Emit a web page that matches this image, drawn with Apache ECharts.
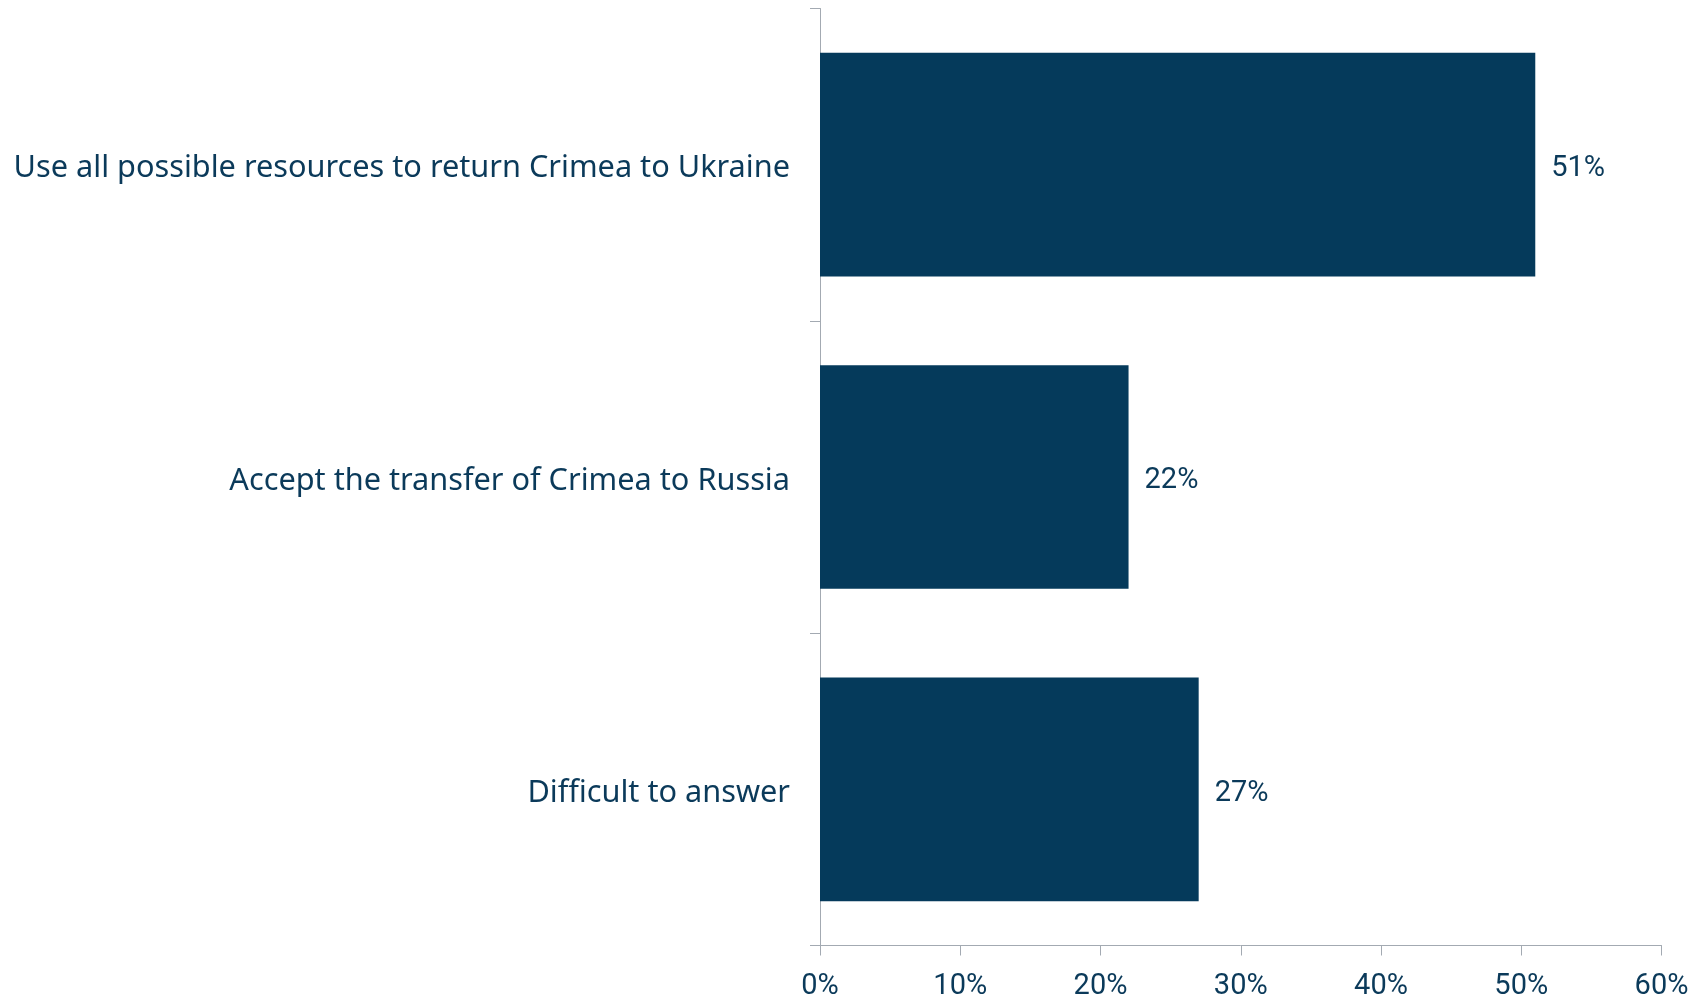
<!DOCTYPE html>
<html>
<head>
<meta charset="utf-8">
<script src="https://cdn.jsdelivr.net/npm/echarts@6/dist/echarts.min.js"></script>
<style>
html,body{margin:0;padding:0;background:#fff;}
#chart{width:1707px;height:1000px;}
</style>
</head>
<body>
<div id="chart"></div>
<script>
const categories = [
  "Use all possible resources to return Crimea to Ukraine",
  "Accept the transfer of Crimea to Russia",
  "Difficult to answer"
];
const values = [51, 22, 27];
const xTicks = { min: 0, max: 60, interval: 10 };

const navy = '#053a5b';
const textColor = '#0b3a5a';
const axisGrey = '#a3aab2';
const numFont = 'Roboto, "Noto Sans", sans-serif';
const catFont = '"Noto Sans", sans-serif';

const chart = echarts.init(document.getElementById('chart'), null, { renderer: 'canvas' });
chart.setOption({
  animation: false,
  backgroundColor: '#ffffff',
  grid: {
    left: 820, right: 45.5, top: 8.5, bottom: 54.5,
    containLabel: false, outerBoundsMode: 'none'
  },
  xAxis: {
    type: 'value',
    min: xTicks.min, max: xTicks.max, interval: xTicks.interval,
    axisLine: { show: true, lineStyle: { color: axisGrey, width: 1 } },
    axisTick: { show: true, length: 10, lineStyle: { color: axisGrey } },
    splitLine: { show: false },
    axisLabel: {
      formatter: '{value}%', color: textColor, fontSize: 29,
      fontFamily: numFont, margin: 27
    }
  },
  yAxis: {
    type: 'category',
    data: categories,
    inverse: true,
    axisLine: { show: true, lineStyle: { color: axisGrey, width: 1 } },
    axisTick: { show: true, length: 10, lineStyle: { color: axisGrey } },
    axisLabel: {
      color: textColor, fontSize: 30.7, fontFamily: catFont, margin: 30,
      formatter: function (v) { return '{a|' + v + '}'; },
      rich: {
        a: { color: textColor, fontSize: 30.7, fontFamily: catFont, padding: [8, 0, 0, 0] }
      }
    }
  },
  series: [{
    type: 'bar',
    data: values,
    barCategoryGap: '28.4%',
    itemStyle: { color: navy },
    label: {
      show: true, position: 'right', distance: 16, offset: [0, 4],
      formatter: '{c}%', color: textColor, fontSize: 29, fontFamily: numFont
    }
  }]
});
</script>
</body>
</html>
